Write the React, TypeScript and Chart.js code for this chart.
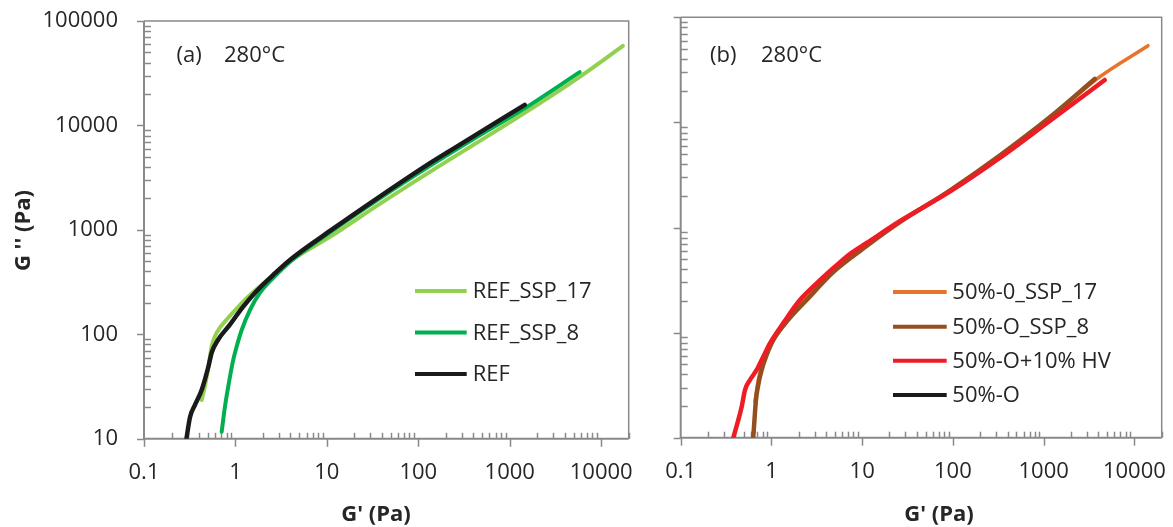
import React, { useEffect, useRef } from "react";
import { Chart, registerables } from "chart.js";

Chart.register(...registerables);

const FONT = "'Open Sans', 'Liberation Sans', sans-serif";
const TEXT = "#262626";
const AXIS = "#898989";

// ---------- Panel (a) ----------
const refSsp17X = [0.427, 0.464, 0.504, 0.549, 0.597, 0.677, 0.871, 1.326, 2.19, 3.94, 10.8, 37.9, 134, 1459, 5820, 17300];
const refSsp17Y = [23.5, 32.0, 47.6, 76.6, 95.8, 116, 150, 222, 325, 499, 857, 1774, 3594, 13200, 29210, 57800];

const refSsp8X = [0.707, 0.768, 0.834, 0.946, 1.03, 1.17, 1.44, 1.85, 2.59, 3.94, 10.8, 37.9, 134, 365, 1459, 5820];
const refSsp8Y = [11.7, 20.3, 31.6, 56.9, 76.2, 110, 171, 249, 347, 494, 946, 2004, 4100, 7047, 14590, 32360];

const refX = [0.291, 0.319, 0.361, 0.427, 0.505, 0.553, 0.644, 0.871, 1.21, 1.705, 2.59, 3.94, 10.8, 37.9, 134, 221, 1459];
const refY = [10, 16.2, 21.1, 29.3, 48.7, 67.8, 88.3, 124, 183, 260, 371, 516, 977, 2085, 4355, 5715, 15740];

// ---------- Panel (b) ----------
const o17X = [0.658, 0.687, 0.715, 0.78, 0.848, 1.005, 1.44, 2.22, 4.79, 11.2, 26.2, 92.4, 328, 1167, 3846, 14120];
const o17Y = [22.0, 28.4, 35.4, 48.1, 61.2, 83.2, 127, 204, 394, 689, 1140, 2225, 4739, 10770, 25880, 53680];

const o8X = [0.63, 0.65, 0.675, 0.715, 0.78, 0.885, 1.05, 1.53, 2.44, 4.79, 11.2, 26.2, 92.4, 328, 1167, 3655];
const o8Y = [10, 14.7, 22.8, 31.7, 44.1, 61.2, 85.0, 132, 204, 377, 667, 1128, 2249, 4842, 11180, 25880];

const hvX = [0.38, 0.431, 0.47, 0.511, 0.58, 0.687, 0.812, 0.963, 1.35, 2.06, 3.15, 4.79, 7.32, 11.2, 26.2, 92.4, 328, 1167, 4710];
const hvY = [10, 14.7, 19.7, 28.4, 35.4, 44.1, 59.0, 79.1, 123, 204, 294, 409, 560, 712, 1153, 2191, 4584, 10310, 25320];

const o50X = [0.687, 0.812, 0.963, 1.35, 2.06, 3.15, 4.79, 7.32, 11.2, 26.2, 92.4, 328, 1167];
const o50Y = [44.1, 59.0, 79.1, 123, 204, 294, 409, 560, 712, 1153, 2191, 4584, 10310];

// ---------- Axes ----------
const xTickLabels = ["0.1", "1", "10", "100", "1000", "10000"];
const yTickLabels = ["10", "100", "1000", "10000", "100000"];
const X_MIN = 0.1;
const X_MAX = 20000;
const Y_MIN = 10;
const Y_MAX = 100000;

const fmt = (v: number) => (v < 1 ? v.toFixed(1) : String(Math.round(v)));

function logTicks(min: number, max: number) {
  const out: { v: number; major: boolean }[] = [];
  const d0 = Math.floor(Math.log10(min));
  const d1 = Math.ceil(Math.log10(max));
  for (let d = d0; d <= d1; d++) {
    for (let m = 1; m <= 9; m++) {
      const v = m * Math.pow(10, d);
      if (v >= min * 0.9999 && v <= max * 1.0001) out.push({ v, major: m === 1 });
    }
  }
  return out;
}

type PanelCfg = {
  id: string;
  yWidth: number;
  xHeight: number;
  padding: { left: number; right: number; top: number; bottom: number };
  showYLabels: boolean;
  yTitle?: { x: number; y: number };
  xTitle: { x: number; y: number };
  notes: { text: string; x: number; y: number }[];
  legend: { x1: number; x2: number; tx: number; rows: number[] };
};

function makePlugin(cfg: PanelCfg) {
  return {
    id: "panel_" + cfg.id,
    beforeDatasetsDraw(chart: any) {
      const { ctx, chartArea } = chart;
      const { left, right, top, bottom } = chartArea;
      const xs = chart.scales.x;
      const ys = chart.scales.y;
      ctx.save();
      ctx.strokeStyle = AXIS;
      ctx.lineWidth = 1.5;
      ctx.beginPath();
      ctx.moveTo(left, top);
      ctx.lineTo(right, top);
      ctx.lineTo(right, bottom);
      ctx.stroke();
      ctx.lineWidth = 2;
      ctx.beginPath();
      ctx.moveTo(left, top);
      ctx.lineTo(left, bottom);
      ctx.lineTo(right, bottom);
      ctx.stroke();
      ctx.lineWidth = 1.5;
      for (const t of logTicks(xs.min, xs.max)) {
        const px = Math.round(xs.getPixelForValue(t.v)) + 0.5;
        ctx.beginPath();
        if (t.major) {
          ctx.moveTo(px, bottom);
          ctx.lineTo(px, bottom + 8);
        } else {
          ctx.moveTo(px, bottom - 6);
          ctx.lineTo(px, bottom);
        }
        ctx.stroke();
      }
      for (const t of logTicks(ys.min, ys.max)) {
        const py = Math.round(ys.getPixelForValue(t.v)) + 0.5;
        ctx.beginPath();
        if (t.major) {
          ctx.moveTo(left - 7, py);
          ctx.lineTo(left, py);
        } else {
          ctx.moveTo(left, py);
          ctx.lineTo(left + 7, py);
        }
        ctx.stroke();
      }
      ctx.restore();
    },
    afterDraw(chart: any) {
      const { ctx } = chart;
      ctx.save();
      ctx.fillStyle = TEXT;
      ctx.textBaseline = "middle";
      ctx.font = `22px ${FONT}`;
      ctx.textAlign = "left";
      for (const n of cfg.notes) ctx.fillText(n.text, n.x, n.y);
      chart.data.datasets.forEach((ds: any, i: number) => {
        const y = cfg.legend.rows[i];
        ctx.strokeStyle = ds.borderColor;
        ctx.lineWidth = 4;
        ctx.lineCap = "butt";
        ctx.beginPath();
        ctx.moveTo(cfg.legend.x1, y);
        ctx.lineTo(cfg.legend.x2, y);
        ctx.stroke();
        ctx.fillStyle = TEXT;
        ctx.fillText(ds.label, cfg.legend.tx, y + 1);
      });
      ctx.font = `bold 22px ${FONT}`;
      ctx.textAlign = "center";
      ctx.fillText("G' (Pa)", cfg.xTitle.x, cfg.xTitle.y);
      if (cfg.yTitle) {
        ctx.save();
        ctx.translate(cfg.yTitle.x, cfg.yTitle.y);
        ctx.rotate(-Math.PI / 2);
        ctx.fillText("G '' (Pa)", 0, 0);
        ctx.restore();
      }
      ctx.restore();
    },
  };
}

function series(label: string, xs: number[], ys: number[], color: string, width: number, order: number) {
  return {
    label,
    data: xs.map((x, i) => ({ x, y: ys[i] })),
    borderColor: color,
    backgroundColor: color,
    borderWidth: width,
    pointRadius: 0,
    pointHoverRadius: 0,
    showLine: true,
    fill: false,
    cubicInterpolationMode: "monotone" as const,
    borderCapStyle: "round" as const,
    borderJoinStyle: "round" as const,
    order,
  };
}

function buildConfig(cfg: PanelCfg, datasets: any[]) {
  return {
    type: "scatter" as const,
    data: { datasets },
    options: {
      responsive: false,
      animation: false as const,
      events: [],
      layout: { padding: cfg.padding },
      plugins: { legend: { display: false }, tooltip: { enabled: false } },
      scales: {
        x: {
          type: "logarithmic" as const,
          min: X_MIN,
          max: X_MAX,
          border: { display: false },
          grid: { display: false, drawTicks: false },
          ticks: {
            autoSkip: false,
            maxRotation: 0,
            minRotation: 0,
            padding: 21,
            color: TEXT,
            font: { family: FONT, size: 22 },
            callback: (v: any) => {
              const s = fmt(Number(v));
              return xTickLabels.includes(s) ? s : "";
            },
          },
          afterFit: (s: any) => {
            s.height = cfg.xHeight;
            s.paddingLeft = 0;
            s.paddingRight = 0;
          },
        },
        y: {
          type: "logarithmic" as const,
          min: Y_MIN,
          max: Y_MAX,
          border: { display: false },
          grid: { display: false, drawTicks: false },
          ticks: {
            display: cfg.showYLabels,
            autoSkip: false,
            padding: 26,
            color: TEXT,
            font: { family: FONT, size: 22 },
            callback: (v: any) => {
              const s = fmt(Number(v));
              return yTickLabels.includes(s) ? s : "";
            },
          },
          afterFit: (s: any) => {
            s.width = cfg.yWidth;
            s.paddingTop = 0;
            s.paddingBottom = 0;
          },
        },
      },
    },
  };
}

const leftCfg: PanelCfg = {
  id: "a",
  yWidth: 144,
  xHeight: 527 - 438.8,
  padding: { left: 0, right: 650 - 628.7, top: 21, bottom: 0 },
  showYLabels: true,
  yTitle: { x: 24, y: 230.5 },
  xTitle: { x: 376, y: 515 },
  notes: [
    { text: "(a)", x: 176.5, y: 55.5 },
    { text: "280°C", x: 224, y: 55.5 },
  ],
  legend: { x1: 415, x2: 466.7, tx: 472.7, rows: [291, 332.5, 374] },
};

const rightCfg: PanelCfg = {
  id: "b",
  yWidth: 30.7,
  xHeight: 527 - 437.7,
  padding: { left: 0, right: 523 - 511.7, top: 17.3, bottom: 0 },
  showYLabels: false,
  xTitle: { x: 289, y: 515 },
  notes: [
    { text: "(b)", x: 60, y: 55.5 },
    { text: "280°C", x: 111, y: 55.5 },
  ],
  legend: { x1: 243, x2: 296.7, tx: 302.3, rows: [292, 326.7, 360.7, 395] },
};

function Panel({ cfg, datasets, left, width }: { cfg: PanelCfg; datasets: any[]; left: number; width: number }) {
  const ref = useRef<HTMLCanvasElement | null>(null);
  useEffect(() => {
    if (!ref.current) return;
    const conf: any = buildConfig(cfg, datasets);
    conf.plugins = [makePlugin(cfg)];
    const chart = new Chart(ref.current, conf);
    return () => chart.destroy();
  }, []);
  return (
    <canvas
      ref={ref}
      width={width}
      height={527}
      style={{ position: "absolute", left, top: 0, width, height: 527 }}
    />
  );
}

export default function App() {
  const leftSets = [
    series("REF_SSP_17", refSsp17X, refSsp17Y, "#92D050", 4, 2),
    series("REF_SSP_8", refSsp8X, refSsp8Y, "#00B050", 4, 1),
    series("REF", refX, refY, "#1A1A1A", 4.5, 0),
  ];
  const rightSets = [
    series("50%-0_SSP_17", o17X, o17Y, "#E8732A", 3.5, 2),
    series("50%-O_SSP_8", o8X, o8Y, "#954F1E", 4.5, 1),
    series("50%-O+10% HV", hvX, hvY, "#EE1C25", 4.5, 0),
    series("50%-O", o50X, o50Y, "#1A1A1A", 3, 3),
  ];
  return (
    <div style={{ position: "absolute", left: 0, top: 0, width: 1173, height: 527, background: "#fff" }}>
      <Panel cfg={leftCfg} datasets={leftSets} left={0} width={650} />
      <Panel cfg={rightCfg} datasets={rightSets} left={650} width={523} />
    </div>
  );
}
